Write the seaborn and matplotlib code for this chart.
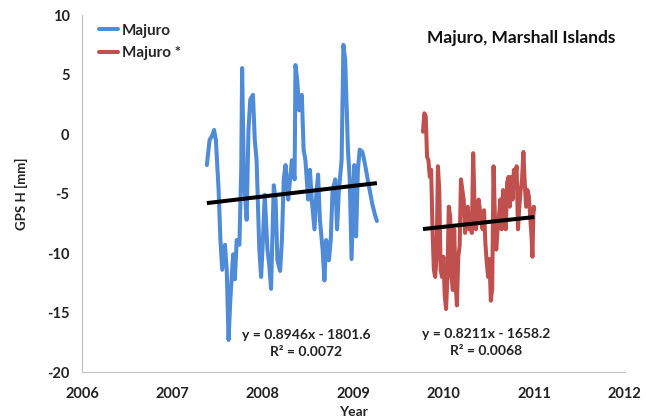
import numpy as np
import pandas as pd
import seaborn as sns
import matplotlib
matplotlib.use("Agg")
import matplotlib.pyplot as plt

# ---------------- data ----------------
blue_year = [2007.38, 2007.41, 2007.44, 2007.46, 2007.48, 2007.51, 2007.53, 2007.55, 2007.58, 2007.60,
             2007.62, 2007.64, 2007.67, 2007.69, 2007.71, 2007.74, 2007.76, 2007.77, 2007.79, 2007.82,
             2007.84, 2007.86, 2007.89, 2007.91, 2007.93, 2007.96, 2007.98, 2008.00, 2008.02, 2008.05,
             2008.07, 2008.09, 2008.12, 2008.14, 2008.16, 2008.19, 2008.21, 2008.23, 2008.25, 2008.28,
             2008.30, 2008.32, 2008.35, 2008.36, 2008.38, 2008.40, 2008.43, 2008.45, 2008.47, 2008.50,
             2008.52, 2008.54, 2008.57, 2008.59, 2008.61, 2008.63, 2008.66, 2008.68, 2008.70, 2008.73,
             2008.75, 2008.77, 2008.80, 2008.82, 2008.84, 2008.87, 2008.89, 2008.91, 2008.94, 2008.96,
             2008.98, 2009.01, 2009.03, 2009.05, 2009.07, 2009.10, 2009.12, 2009.14, 2009.17, 2009.21,
             2009.24, 2009.26]
blue_val = [-2.6, -0.5, -0.1, 0.35, -0.5, -4.7, -8.9, -11.4, -9.3, -11.4,
            -17.3, -13.9, -10.1, -12.2, -8.9, -9.3, -3.0, 5.55, -3.8, -7.2,
            0.35, 2.9, 3.3, -0.5, -2.2, -9.7, -12.0, -8.9, -5.1, -9.7,
            -11.0, -13.0, -4.3, -5.5, -10.6, -11.5, -8.9, -3.8, -2.6, -5.5,
            -3.8, -2.2, -3.8, 5.8, 4.5, 2.0, 3.3, -1.3, -2.2, -5.5,
            -3.0, -5.5, -8.0, -5.1, -3.4, -7.2, -9.7, -12.3, -8.9, -10.6,
            -8.9, -4.7, -3.8, -8.0, -4.7, -2.2, 7.5, 6.2, -1.3, -3.8,
            -10.5, -2.6, -8.6, -3.0, -1.3, -1.5, -2.2, -3.0, -4.3, -5.9,
            -6.8, -7.3]

red_year = [2009.77, 2009.785, 2009.80, 2009.815, 2009.83, 2009.845, 2009.86, 2009.875, 2009.89, 2009.905,
            2009.92, 2009.935, 2009.95, 2009.965, 2009.98, 2009.995, 2010.01, 2010.025, 2010.04, 2010.055,
            2010.07, 2010.085, 2010.10, 2010.115, 2010.13, 2010.145, 2010.16, 2010.175, 2010.19, 2010.205,
            2010.22, 2010.235, 2010.25, 2010.265, 2010.28, 2010.295, 2010.31, 2010.325, 2010.34, 2010.355,
            2010.37, 2010.385, 2010.40, 2010.415, 2010.43, 2010.445, 2010.46, 2010.475, 2010.49, 2010.505,
            2010.52, 2010.535, 2010.55, 2010.565, 2010.58, 2010.595, 2010.61, 2010.625, 2010.64, 2010.655,
            2010.67, 2010.685, 2010.70, 2010.715, 2010.73, 2010.745, 2010.76, 2010.775, 2010.79, 2010.805,
            2010.82, 2010.835, 2010.85, 2010.865, 2010.88, 2010.895, 2010.91, 2010.925, 2010.94, 2010.955,
            2010.97, 2010.98, 2010.99, 2010.995, 2011.0]
red_val = [0.2, 1.75, 1.5, -1.9, -2.2, -3.6, -3.0, -8.0, -11.4, -12.0,
           -10.3, -2.7, -4.7, -11.4, -12.0, -10.3, -13.5, -14.7, -12.0, -6.1,
           -6.9, -12.0, -13.1, -8.0, -12.5, -14.4, -10.3, -9.4, -3.8, -4.7,
           -5.5, -8.3, -6.9, -6.1, -8.0, -7.5, -8.3, -1.6, -6.1, -8.0,
           -6.9, -5.5, -6.4, -7.5, -8.0, -6.4, -9.2, -10.8, -12.0, -10.5,
           -14.0, -13.0, -2.7, -6.9, -9.7, -8.0, -6.9, -5.5, -8.0, -4.7,
           -5.8, -8.0, -4.1, -3.6, -6.1, -3.6, -5.5, -3.0, -3.6, -2.7,
           -8.0, -6.1, -4.7, -3.8, -1.5, -4.1, -6.1, -4.7, -5.2, -6.9,
           -8.6, -10.3, -6.9, -6.1, -6.3]

series_names = ["Majuro", "Majuro *"]
series_colors = ["#4f8bd6", "#c0504d"]
trend_slope = [0.8946, 0.8211]
trend_intercept = [-1801.6, -1658.2]
eq_texts = ["y = 0.8946x - 1801.6\nR² = 0.0072", "y = 0.8211x - 1658.2\nR² = 0.0068"]
eq_pos_x = [2008.48, 2010.47]
eq_pos_y = [-17.6, -17.5]
title_text = "Majuro, Marshall Islands"
x_ticks = [2006, 2007, 2008, 2009, 2010, 2011, 2012]
y_ticks = [-20, -15, -10, -5, 0, 5, 10]

# ---------------- figure ----------------
sns.set_theme(style="white")
plt.rcParams["font.family"] = ["Lato", "DejaVu Sans"]

df = pd.concat([
    pd.DataFrame({"Year": blue_year, "GPS H": blue_val, "series": series_names[0]}),
    pd.DataFrame({"Year": red_year, "GPS H": red_val, "series": series_names[1]}),
], ignore_index=True)

fig = plt.figure(figsize=(6.46, 4.20), dpi=100)
ax = fig.add_axes([0.127, 0.114, 0.84, 0.85])

sns.lineplot(data=df, x="Year", y="GPS H", hue="series", palette=series_colors,
             estimator=None, sort=False, linewidth=2.9, ax=ax, legend=True)

# linear trend lines from the displayed equations
for (xs, m, b) in [(blue_year, trend_slope[0], trend_intercept[0]),
                   (red_year, trend_slope[1], trend_intercept[1])]:
    xx = np.array([min(xs), max(xs)])
    ax.plot(xx, m * xx + b, color="black", linewidth=2.9, solid_capstyle="butt", zorder=5)

for t, x, y in zip(eq_texts, eq_pos_x, eq_pos_y):
    ax.text(x, y, t, ha="center", va="center", fontsize=10, fontweight="bold",
            color="#222222", linespacing=1.45)

ax.text(0.982, 0.935, title_text, transform=ax.transAxes, ha="right", va="center",
        fontsize=12.5, fontweight="bold", color="#111111")

ax.set_xlim(2006, 2012)
ax.set_ylim(-20, 10)
ax.set_xticks(x_ticks)
ax.set_yticks(y_ticks)
ax.set_xticklabels([str(v) for v in x_ticks], fontweight="bold")
ax.set_yticklabels([str(v) for v in y_ticks], fontweight="bold")
ax.tick_params(axis="both", labelsize=10.5, colors="#222222", length=4, width=0.8,
               direction="out", color="#bfbfbf")
ax.tick_params(axis="x", pad=7)
ax.tick_params(axis="y", pad=5)
ax.set_xlabel("Year", fontsize=10, fontweight="bold", color="#222222", labelpad=3)
ax.set_ylabel("GPS H [mm]", fontsize=9.5, fontweight="bold", color="#222222", labelpad=14)

for s in ["top", "right"]:
    ax.spines[s].set_visible(False)
for s in ["left", "bottom"]:
    ax.spines[s].set_color("#bfbfbf")
    ax.spines[s].set_linewidth(0.8)

handles, labels = ax.get_legend_handles_labels()
leg = ax.legend(handles, labels, loc="upper left", bbox_to_anchor=(0.005, 1.015), frameon=False,
                handlelength=1.3, handletextpad=0.25, labelspacing=0.55,
                prop={"weight": "bold", "size": 11})
for line in leg.get_lines():
    line.set_linewidth(2.9)

fig.savefig("out.png", dpi=100)
